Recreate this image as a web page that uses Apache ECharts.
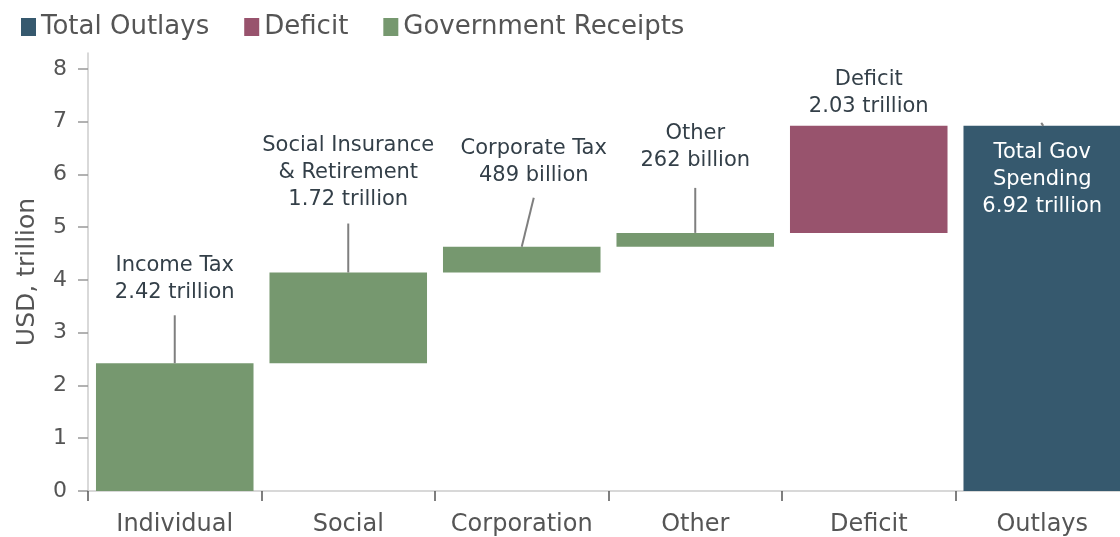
<!DOCTYPE html>
<html>
<head>
<meta charset="utf-8">
<script src="https://cdn.jsdelivr.net/npm/echarts@6/dist/echarts.min.js"></script>
<style>
html,body{margin:0;padding:0;background:#fff;}
#chart{width:1120px;height:537px;}
</style>
</head>
<body>
<div id="chart"></div>
<script>
// ---- data ----
const categories = ['Individual', 'Social', 'Corporation', 'Other', 'Deficit', 'Outlays'];
const receipts = [2.42, 1.72, 0.489, 0.262, '-', '-'];
const deficit = ['-', '-', '-', '-', 2.03, '-'];
const outlays = ['-', '-', '-', '-', '-', 6.92];
const annotations = [
  'Income Tax\n2.42 trillion',
  'Social Insurance\n& Retirement\n1.72 trillion',
  'Corporate Tax\n489 billion',
  'Other\n262 billion',
  'Deficit\n2.03 trillion',
  'Total Gov\nSpending\n6.92 trillion'
];
const yTicks = [0, 1, 2, 3, 4, 5, 6, 7, 8];
const yAxisTitle = 'USD, trillion';
const legendNames = ['Total Outlays', 'Deficit', 'Government Receipts'];

// ---- styles ----
const FONT = 'DejaVu Sans';
const C_OUT = '#36596e', C_DEF = '#98536d', C_REC = '#76986f';
const TXT = '#333f48', AX = '#555';
const labelStyles = [
  {distance: 57}, {distance: 59}, {distance: 58, offset: [12, 0]},
  {distance: 59}, {distance: 6}, {distance: 13}
];
const leaders = [
  {len: 48, dxB: 0, dxT: 0}, {len: 49, dxB: 0, dxT: 0}, {len: 49, dxB: 0, dxT: 12},
  {len: 45, dxB: 0, dxT: 0}, null, {len: 3, dxB: 1, dxT: -1}
];

// stack base (running total for the waterfall steps)
const steps = categories.map((c, i) => {
  const v = [receipts[i], deficit[i]].find(x => x !== '-');
  return v === undefined ? null : v;
});
const base = [];
let run = 0;
steps.forEach((v, i) => {
  if (v === null) { base.push(0); }
  else { base.push(run); run += v; }
});
const tops = categories.map((c, i) => {
  if (outlays[i] !== '-') return outlays[i];
  return base[i] + steps[i];
});

function mkData(arr) {
  return arr.map((v, i) => {
    if (v === '-') return '-';
    const ls = labelStyles[i];
    const isOut = (arr === outlays);
    return {
      value: v,
      label: {
        show: true,
        position: isOut ? 'insideTop' : 'top',
        distance: ls.distance,
        offset: ls.offset || [0, 0],
        formatter: annotations[i],
        color: isOut ? '#ffffff' : TXT,
        fontFamily: FONT,
        fontSize: 21,
        lineHeight: 27,
        align: 'center'
      }
    };
  });
}

const barW = '90.8%';
const chart = echarts.init(document.getElementById('chart'), null, {renderer: 'canvas'});
const option = {
  animation: false,
  backgroundColor: '#fff',
  legend: {
    data: legendNames,
    left: 16, top: 9,
    icon: 'rect',
    itemWidth: 15, itemHeight: 18,
    itemGap: 35,
    textStyle: {fontFamily: FONT, fontSize: 26, color: AX}
  },
  grid: {left: 88, right: -9, top: 53, bottom: 46, containLabel: false, outerBoundsMode: 'none'},
  xAxis: {
    type: 'category',
    data: categories,
    axisLine: {lineStyle: {color: '#cccccc', width: 1.5}},
    axisTick: {show: true, interval: 0, length: 10, lineStyle: {color: '#555', width: 1.5}},
    axisLabel: {interval: 0, fontFamily: FONT, fontSize: 24, color: AX, margin: 22}
  },
  yAxis: {
    type: 'value',
    min: 0, max: 8.3, interval: 1,
    name: yAxisTitle,
    nameLocation: 'middle',
    nameGap: 48,
    nameTextStyle: {fontFamily: FONT, fontSize: 25, color: AX},
    splitLine: {show: false},
    axisLine: {show: true, lineStyle: {color: '#cccccc', width: 1.5}},
    axisTick: {show: true, length: 10, customValues: yTicks, lineStyle: {color: '#999', width: 1.5}},
    axisLabel: {fontFamily: FONT, fontSize: 22, color: AX, margin: 21, customValues: yTicks}
  },
  series: [
    {
      name: 'base', type: 'bar', stack: 'w', barWidth: barW, silent: true,
      itemStyle: {color: 'rgba(0,0,0,0)'}, data: base, z: 1
    },
    {name: 'Total Outlays', type: 'bar', stack: 'w', barWidth: barW,
     itemStyle: {color: C_OUT}, data: mkData(outlays)},
    {name: 'Deficit', type: 'bar', stack: 'w', barWidth: barW,
     itemStyle: {color: C_DEF}, data: mkData(deficit)},
    {name: 'Government Receipts', type: 'bar', stack: 'w', barWidth: barW,
     itemStyle: {color: C_REC}, data: mkData(receipts)}
  ]
};
chart.setOption(option);

// leader lines from bar tops to annotations
const lines = [];
tops.forEach((t, i) => {
  const ld = leaders[i];
  if (!ld) return;
  const p = chart.convertToPixel({xAxisIndex: 0, yAxisIndex: 0}, [i, t]);
  lines.push({
    type: 'line', z: 50,
    shape: {x1: p[0] + ld.dxB, y1: p[1], x2: p[0] + ld.dxT, y2: p[1] - ld.len},
    style: {stroke: '#7f7f7f', lineWidth: 2}
  });
});
chart.setOption({graphic: lines});
</script>
</body>
</html>
